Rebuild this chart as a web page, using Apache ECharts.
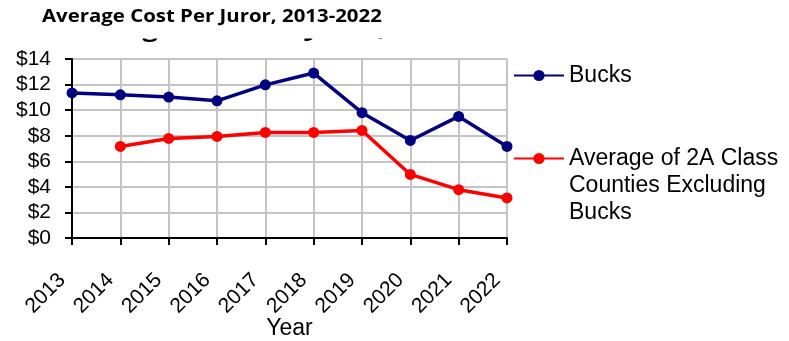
<!DOCTYPE html>
<html>
<head>
<meta charset="utf-8">
<script src="https://cdn.jsdelivr.net/npm/echarts@6/dist/echarts.min.js"></script>
<style>
  html, body { margin: 0; padding: 0; background: #fff; }
  #chart { width: 789px; height: 341px; }
</style>
</head>
<body>
<div id="chart"></div>
<script>
// Average cost per juror, 2013-2022
const years = ['2013', '2014', '2015', '2016', '2017', '2018', '2019', '2020', '2021', '2022'];
const bucks = [11.35, 11.2, 11.02, 10.73, 11.98, 12.9, 9.8, 7.63, 9.51, 7.16];
const classAvg = [null, 7.16, 7.79, 7.94, 8.26, 8.26, 8.41, 4.97, 3.78, 3.13];
const yTicks = { min: 0, max: 14, interval: 2 };

const titleText = 'Average Cost Per Juror, 2013-2022';
const bucksName = 'Bucks';
const classAvgName = 'Average of 2A Class Counties Excluding Bucks';
const classAvgLines = ['Average of 2A Class', 'Counties Excluding', 'Bucks'];

const FONT = '"Liberation Sans", Arial, sans-serif';

const chart = echarts.init(document.getElementById('chart'), null, { renderer: 'canvas' });

chart.setOption({
  animation: false,
  backgroundColor: '#ffffff',
  grid: { left: 72, right: 282, top: 59, bottom: 103, containLabel: false, outerBoundsMode: 'none' },
  graphic: [
    {
      // larger copy of the heading, mostly hidden behind the white strips
      type: 'text', z: 1, x: 60, y: 17, scaleX: 1.2,
      style: { text: titleText, font: 'bold 23.6px "Open Sans", sans-serif', fill: '#000', verticalAlign: 'top' }
    },
    {
      type: 'rect', z: 2, shape: { x: 0, y: 0, width: 560, height: 38.5 },
      style: { fill: '#ffffff' }
    },
    {
      type: 'rect', z: 2, shape: { x: 496, y: 0, width: 80, height: 50 },
      style: { fill: '#ffffff' }
    },
    {
      type: 'text', z: 3, x: 42, y: 9, scaleX: 1.2,
      style: { text: titleText, font: 'bold 17px "Open Sans", sans-serif', fill: '#000', verticalAlign: 'top' }
    }
  ],
  legend: [
    {
      data: [bucksName], left: 513, top: 64, padding: 0,
      itemWidth: 50, itemHeight: 14,
      textStyle: { fontFamily: FONT, fontSize: 23, color: '#000' }
    },
    {
      // two blank lines above keep the first line level with the legend line
      data: [classAvgName], left: 513, top: 91, padding: 0,
      itemWidth: 50, itemHeight: 14,
      formatter: () => '\n\n' + classAvgLines.join('\n'),
      textStyle: { fontFamily: FONT, fontSize: 23, color: '#000', lineHeight: 27 }
    }
  ],
  xAxis: {
    type: 'category',
    data: years,
    boundaryGap: false,
    name: 'Year',
    nameLocation: 'middle',
    nameGap: 79,
    nameMoveOverlap: false,
    nameTextStyle: { fontFamily: FONT, fontSize: 23, color: '#000' },
    axisLine: { lineStyle: { color: '#000', width: 2 } },
    axisTick: { show: true, length: 7, lineStyle: { color: '#000', width: 2 } },
    axisLabel: { rotate: 45, margin: 29, padding: [0, 14, 0, 0], fontFamily: FONT, fontSize: 21, color: '#000' },
    splitLine: { show: true, lineStyle: { color: '#c4c4c4', width: 2 } }
  },
  yAxis: {
    type: 'value',
    min: yTicks.min, max: yTicks.max, interval: yTicks.interval,
    axisLine: { show: true, lineStyle: { color: '#000', width: 2 } },
    axisTick: { show: true, length: 7, lineStyle: { color: '#000', width: 2 } },
    axisLabel: { margin: 21, fontFamily: FONT, fontSize: 21, color: '#000', formatter: v => '$' + v },
    splitLine: { show: true, lineStyle: { color: '#c4c4c4', width: 2 } }
  },
  series: [
    {
      name: bucksName, type: 'line', data: bucks,
      symbol: 'circle', symbolSize: 11,
      lineStyle: { color: '#000080', width: 3.5 },
      itemStyle: { color: '#000080' }
    },
    {
      name: classAvgName, type: 'line', data: classAvg,
      symbol: 'circle', symbolSize: 11,
      lineStyle: { color: '#ff0000', width: 3.5 },
      itemStyle: { color: '#ff0000' }
    }
  ]
});
</script>
</body>
</html>
